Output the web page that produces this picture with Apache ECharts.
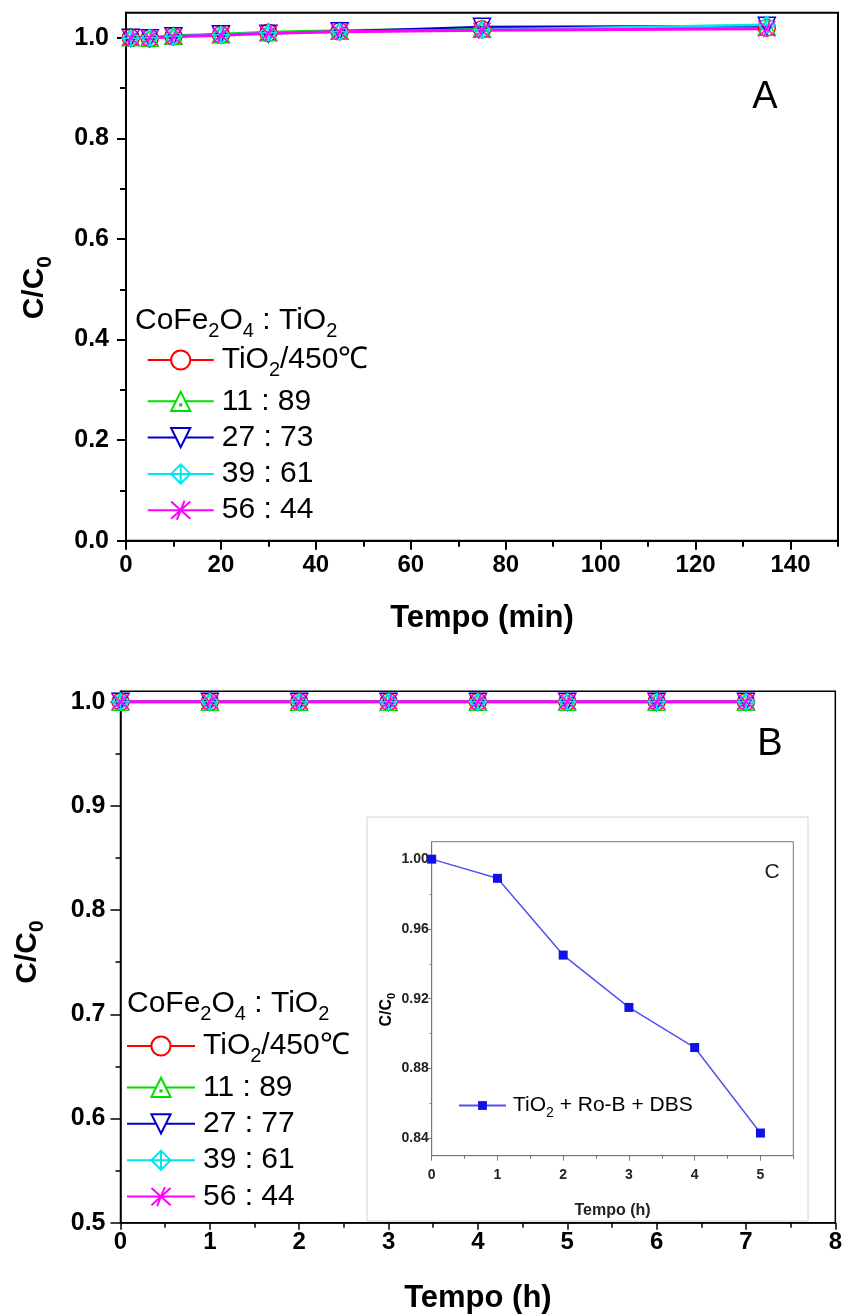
<!DOCTYPE html>
<html>
<head>
<meta charset="utf-8">
<script src="https://cdn.jsdelivr.net/npm/echarts@6/dist/echarts.min.js"></script>
<style>
  html, body { margin: 0; padding: 0; background: #fff; }
  #chart { width: 845px; height: 1315px; }
</style>
</head>
<body>
<div id="chart"></div>
<script>
// ---- Panel A: C/C0 versus time (min) ----
const timeMinA = [1, 5, 10, 20, 30, 45, 75, 135];
const tio2A   = [1.000, 0.999, 1.003, 1.006, 1.010, 1.013, 1.017, 1.020];
const r11_89A = [1.001, 1.000, 1.004, 1.007, 1.011, 1.014, 1.018, 1.022];
const r27_73A = [1.000, 0.999, 1.003, 1.007, 1.008, 1.013, 1.022, 1.024];
const r39_61A = [0.999, 1.000, 1.003, 1.006, 1.010, 1.012, 1.016, 1.026];
const r56_44A = [1.000, 1.000, 1.002, 1.005, 1.009, 1.012, 1.015, 1.018];
const namesA  = ['TiO2/450℃', '11 : 89', '27 : 73', '39 : 61', '56 : 44'];

// ---- Panel B: C/C0 versus time (h) ----
const timeHB  = [0, 1, 2, 3, 4, 5, 6, 7];
const tio2B   = [1.0, 1.0, 1.0, 1.0, 1.0, 1.0, 1.0, 1.0];
const r11_89B = [1.0, 1.0, 1.0, 1.0, 1.0, 1.0, 1.0, 1.0];
const r27_77B = [1.0, 1.0, 1.0, 1.0, 1.0, 1.0, 1.0, 1.0];
const r39_61B = [1.0, 1.0, 1.0, 1.0, 1.0, 1.0, 1.0, 1.0];
const r56_44B = [1.0, 1.0, 1.0, 1.0, 1.0, 1.0, 1.0, 1.0];
const namesB  = ['TiO2/450℃', '11 : 89', '27 : 77', '39 : 61', '56 : 44'];

// ---- Inset C: TiO2 + Ro-B + DBS ----
const timeHC = [0, 1, 2, 3, 4, 5];
const dbsC   = [1.000, 0.989, 0.945, 0.915, 0.892, 0.843];
const nameC  = 'TiO2 + Ro-B + DBS';

// ---- tick positions ----
const xTicksA = [0, 20, 40, 60, 80, 100, 120, 140];
const xMinorA = [10, 30, 50, 70, 90, 110, 130, 150];
const yTicksA = [0, 0.2, 0.4, 0.6, 0.8, 1.0];
const yMinorA = [0.1, 0.3, 0.5, 0.7, 0.9];
const xTicksB = [0, 1, 2, 3, 4, 5, 6, 7, 8];
const xMinorB = [0.5, 1.5, 2.5, 3.5, 4.5, 5.5, 6.5, 7.5];
const yTicksB = [0.5, 0.6, 0.7, 0.8, 0.9, 1.0];
const yMinorB = [0.55, 0.65, 0.75, 0.85, 0.95];
const xTicksC = [0, 1, 2, 3, 4, 5];
const xMinorC = [0.5, 1.5, 2.5, 3.5, 4.5, 5.5];
const yTicksC = [0.84, 0.88, 0.92, 0.96, 1.00];
const yMinorC = [0.86, 0.90, 0.94, 0.98];

const FONT = '"Liberation Sans", Arial, Helvetica, sans-serif';

// marker shapes: circle, triangle with a dot, inverted triangle, crossed diamond, star-cross
const SYMBOLS = [
  'circle',
  'path://M10,0L20,17.3L0,17.3Z M9.4,11.2L10.6,11.2L10.6,12.4L9.4,12.4Z',
  'path://M0,0L20,0L10,17.3Z',
  'path://M10,0L20,10L10,20L0,10Z M0,10L20,10 M10,0L10,20',
  'path://M0,1L20,19 M20,1L0,19 M14,0L6,20'
];
const COLORS = ['#ff0000', '#00e000', '#0000c8', '#00e6ee', '#ff00ff'];
const WIDTHS = [2, 3, 2, 2.5, 3];

function lineSeries(name, xs, ys, k, axisIdx) {
  return {
    type: 'line',
    name: name,
    xAxisIndex: axisIdx,
    yAxisIndex: axisIdx,
    data: xs.map((x, i) => [x, ys[i]]),
    symbol: SYMBOLS[k],
    symbolSize: 17,
    lineStyle: { color: COLORS[k], width: WIDTHS[k] },
    itemStyle: { color: 'transparent', borderColor: COLORS[k], borderWidth: 1.5 },
    emphasis: { disabled: true },
    z: 2
  };
}

function mainAxis(o) {
  return {
    type: 'value',
    gridIndex: o.grid,
    position: o.position,
    min: o.min, max: o.max,
    z: o.z || 0,
    name: o.name || '',
    nameLocation: 'middle',
    nameGap: o.nameGap || 0,
    nameTextStyle: o.nameStyle || {},
    axisLine: { show: true, onZero: false, lineStyle: { color: o.color || '#000', width: o.lineW } },
    axisTick: { show: true, customValues: o.ticks, length: o.tickLen, lineStyle: { color: o.color || '#000', width: o.lineW } },
    axisLabel: {
      show: true, customValues: o.ticks, margin: o.margin,
      fontSize: o.labelSize, fontWeight: 'bold', fontFamily: FONT, color: o.labelColor || '#000',
      formatter: o.fmt
    },
    splitLine: { show: false },
    minorTick: { show: false }
  };
}
function minorAxis(o) {
  return {
    type: 'value',
    gridIndex: o.grid,
    position: o.position,
    min: o.min, max: o.max,
    z: o.z || 0,
    axisLine: { show: false },
    axisTick: { show: true, customValues: o.ticks, length: o.tickLen, lineStyle: { color: o.color || '#000', width: o.lineW } },
    axisLabel: { show: false },
    splitLine: { show: false }
  };
}

function nameRich(big, small, shift) {
  return {
    a: { fontSize: big, fontWeight: 'bold', fontFamily: FONT, color: '#000' },
    s: { fontSize: small, fontWeight: 'bold', fontFamily: FONT, color: '#000', padding: [shift, 0, -shift, 0] }
  };
}
function legendRich(big, small, shift) {
  return {
    n: { fontSize: big, fontFamily: FONT, color: '#000', lineHeight: big },
    s: { fontSize: small, fontFamily: FONT, color: '#000', lineHeight: small, padding: [shift, 0, -shift, 0] }
  };
}
function legendFmt(name) {
  if (name.indexOf('TiO2') === 0) return '{n|TiO}{s|2}{n|' + name.slice(4) + '}';
  return '{n|' + name + '}';
}

const fmt1 = v => v.toFixed(1);
const fmt0 = v => String(Math.round(v));
const fmt2 = v => v.toFixed(2);

const xAxes = [
  mainAxis({ grid: 0, position: 'bottom', min: 0, max: 150, ticks: xTicksA, tickLen: 9, lineW: 2, margin: 13, labelSize: 24, fmt: fmt0,
    name: 'Tempo (min)', nameGap: 62, nameStyle: { fontSize: 31, fontWeight: 'bold', fontFamily: FONT, color: '#000', verticalAlign: 'top' } }),
  minorAxis({ grid: 0, position: 'bottom', min: 0, max: 150, ticks: xMinorA, tickLen: 6, lineW: 2 }),
  mainAxis({ grid: 1, position: 'bottom', min: 0, max: 8, ticks: xTicksB, tickLen: 7, lineW: 1.5, margin: 8, labelSize: 24, fmt: fmt0,
    name: 'Tempo (h)', nameGap: 60, nameStyle: { fontSize: 31, fontWeight: 'bold', fontFamily: FONT, color: '#000', verticalAlign: 'top' } }),
  minorAxis({ grid: 1, position: 'bottom', min: 0, max: 8, ticks: xMinorB, tickLen: 5, lineW: 1.5 }),
  mainAxis({ grid: 2, position: 'bottom', min: 0, max: 5.5, ticks: xTicksC, tickLen: 5, lineW: 1, margin: 12, labelSize: 14, fmt: fmt0,
    color: '#777', labelColor: '#222', z: 3,
    name: 'Tempo (h)', nameGap: 47, nameStyle: { fontSize: 16, fontWeight: 'bold', fontFamily: FONT, color: '#222', verticalAlign: 'top' } }),
  minorAxis({ grid: 2, position: 'bottom', min: 0, max: 5.5, ticks: xMinorC, tickLen: 3, lineW: 1, color: '#777', z: 3 })
];

const yAxes = [
  mainAxis({ grid: 0, position: 'left', min: 0, max: 1.05, ticks: yTicksA, tickLen: 9, lineW: 2, margin: 17, labelSize: 25, fmt: fmt1,
    name: '{a|C/C}{s|0}', nameGap: 76, nameStyle: { rich: nameRich(30, 21, 10), padding: [0, 22, 0, 0] } }),
  minorAxis({ grid: 0, position: 'left', min: 0, max: 1.05, ticks: yMinorA, tickLen: 6, lineW: 2 }),
  mainAxis({ grid: 1, position: 'left', min: 0.5, max: 1.01, ticks: yTicksB, tickLen: 10, lineW: 1.5, margin: 15, labelSize: 25, fmt: fmt1,
    name: '{a|C/C}{s|0}', nameGap: 78, nameStyle: { rich: nameRich(30, 21, 10), padding: [0, 0, 0, 10] } }),
  minorAxis({ grid: 1, position: 'left', min: 0.5, max: 1.01, ticks: yMinorB, tickLen: 5, lineW: 1.5 }),
  mainAxis({ grid: 2, position: 'left', min: 0.83, max: 1.01, ticks: yTicksC, tickLen: 4, lineW: 1, margin: 3, labelSize: 14, fmt: fmt2,
    color: '#777', labelColor: '#222', z: 3,
    name: '{a|C/C}{s|0}', nameGap: 34, nameStyle: { rich: nameRich(16, 11, 5), padding: [0, 22, 0, 0] } }),
  minorAxis({ grid: 2, position: 'left', min: 0.83, max: 1.01, ticks: yMinorC, tickLen: 2, lineW: 1, color: '#777', z: 3 })
];

const seriesA = [tio2A, r11_89A, r27_73A, r39_61A, r56_44A].map((ys, k) => lineSeries(namesA[k], timeMinA, ys, k, 0));
const seriesB = [tio2B, r11_89B, r27_77B, r39_61B, r56_44B].map((ys, k) => lineSeries(namesB[k], timeHB, ys, k, 2));
const seriesC = [{
  type: 'line', name: nameC, xAxisIndex: 4, yAxisIndex: 4,
  data: timeHC.map((x, i) => [x, dbsC[i]]),
  symbol: 'rect', symbolSize: 9,
  lineStyle: { color: '#5252f0', width: 1.5 },
  itemStyle: { color: '#1010e8' },
  emphasis: { disabled: true },
  z: 5
}];

const legendTitle = '{n|CoFe}{s|2}{n|O}{s|4}{n| : TiO}{s|2}';

const option = {
  animation: false,
  backgroundColor: '#fff',
  grid: [
    { left: 126, top: 12.7, width: 712, height: 528, show: true, borderColor: '#000', borderWidth: 2, containLabel: false },
    { left: 120.5, top: 691.3, width: 719.5, height: 531.4, show: true, borderColor: '#000', borderWidth: 1.5, containLabel: false },
    { left: 431.7, top: 841.7, width: 361.6, height: 314, show: true, borderColor: '#777', borderWidth: 1, z: 3, containLabel: false }
  ],
  xAxis: xAxes,
  yAxis: yAxes,
  legend: [
    {
      data: namesA, orient: 'vertical', left: 141.7, top: 340, itemWidth: 66, itemHeight: 24, itemGap: 6.3,
      selectedMode: false, formatter: legendFmt,
      textStyle: { fontSize: 30, fontFamily: FONT, color: '#000', lineHeight: 30, padding: [0, 0, 0, 3], rich: legendRich(30, 20, 10) },
      itemStyle: { color: '#fff' }
    },
    {
      data: namesB, orient: 'vertical', left: 121, top: 1026, itemWidth: 68, itemHeight: 24, itemGap: 6.4,
      selectedMode: false, formatter: legendFmt,
      textStyle: { fontSize: 30, fontFamily: FONT, color: '#000', lineHeight: 30, padding: [0, 0, 0, 3], rich: legendRich(30, 20, 10) },
      itemStyle: { color: '#fff' }
    },
    {
      data: [nameC], orient: 'vertical', left: 453, top: 1090, itemWidth: 47, itemHeight: 11, z: 6,
      selectedMode: false, formatter: legendFmt,
      textStyle: { fontSize: 21, fontFamily: FONT, color: '#000', lineHeight: 21, padding: [0, 0, 0, 2], rich: legendRich(21, 14, 8) }
    }
  ],
  graphic: [
    { type: 'rect', z: 1, shape: { x: 367, y: 817, width: 441, height: 404 }, style: { fill: '#fff', stroke: '#d4d4d4', lineWidth: 1 } },
    { type: 'text', z: 10, x: 135, y: 321, style: { text: legendTitle, rich: legendRich(30, 20, 10), verticalAlign: 'middle' } },
    { type: 'text', z: 10, x: 127, y: 1004, style: { text: legendTitle, rich: legendRich(30, 20, 10), verticalAlign: 'middle' } },
    { type: 'text', z: 10, x: 765, y: 98, style: { text: 'A', fontSize: 38, fontFamily: FONT, fill: '#000', align: 'center', verticalAlign: 'middle' } },
    { type: 'text', z: 10, x: 770, y: 745, style: { text: 'B', fontSize: 38, fontFamily: FONT, fill: '#000', align: 'center', verticalAlign: 'middle' } },
    { type: 'text', z: 10, x: 772, y: 872, style: { text: 'C', fontSize: 21, fontFamily: FONT, fill: '#222', align: 'center', verticalAlign: 'middle' } }
  ],
  series: seriesA.concat(seriesB, seriesC)
};

const chart = echarts.init(document.getElementById('chart'), null, { renderer: 'canvas' });
chart.setOption(option);
</script>
</body>
</html>
